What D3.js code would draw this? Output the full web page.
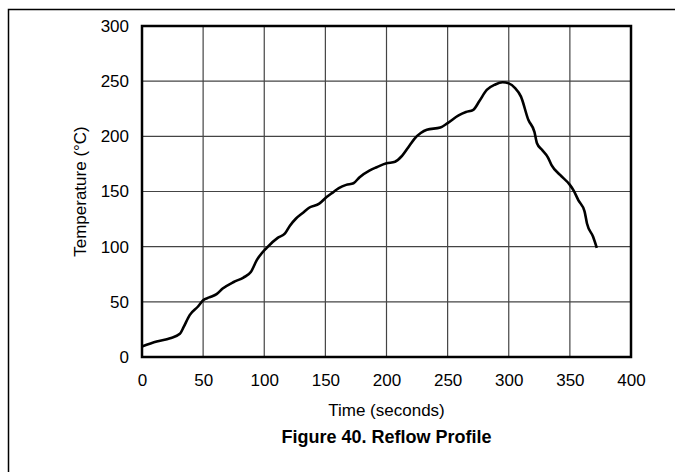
<!DOCTYPE html>
<html>
<head>
<meta charset="utf-8">
<script src="https://cdn.jsdelivr.net/npm/d3@7"></script>
<style>
  body { margin: 0; background: #fff; }
  svg { display: block; font-family: "Liberation Sans", Arial, sans-serif; }
</style>
</head>
<body>
<svg id="chart" width="675" height="472"></svg>
<script>
const timeSeconds = [0,12,23,31,34,39,46,50,55,61,66,75,83,89,94,102,111,117,121,126,132,137,145,151,156,161,167,173,178,186,192,200,207,212,219,223,228,233,244,250,259,265,271,276,282,289,295,300,305,310,316,321,323,327,332,335,342,350,353,357,362,364,369,372];
const temperatureC = [9.5,14,17,21,27,38,46,51.5,54,57,62,68,72,77,88,99,108,112,119,125.5,131,135.5,139,145,149,153,156,157.5,163,169,172,175.5,177,181.5,192,198,203,206,208,212,219,222,224,232,242,247,249,248,244,236,215,204,194,188,181,174,165,156,151,142,132,121,109,99];
const xTicks = [0,50,100,150,200,250,300,350,400];
const yTicks = [0,50,100,150,200,250,300];
const xLabel = "Time (seconds)";
const yLabel = "Temperature (°C)";
const title = "Figure 40. Reflow Profile";

const svg = d3.select("#chart");
const L = 142, R = 631, T = 26, B = 357;
const x = d3.scaleLinear().domain([0,400]).range([L,R]);
const y = d3.scaleLinear().domain([0,300]).range([B,T]);

// figure frame
svg.append("path").attr("d", `M8.5,472 L8.5,9.5 L675,9.5`).attr("fill","none").attr("stroke","#000").attr("stroke-width",1.5);

// grid
svg.append("g").selectAll("line").data(xTicks.slice(1,-1)).join("line")
  .attr("x1", d=>x(d)).attr("x2", d=>x(d)).attr("y1", T).attr("y2", B)
  .attr("stroke","#444").attr("stroke-width",1.2);
svg.append("g").selectAll("line").data(yTicks.slice(1,-1)).join("line")
  .attr("y1", d=>y(d)).attr("y2", d=>y(d)).attr("x1", L).attr("x2", R)
  .attr("stroke","#444").attr("stroke-width",1.2);

// axes (labels only)
const xAxis = svg.append("g").attr("transform",`translate(0,${B})`)
  .call(d3.axisBottom(x).tickValues(xTicks).tickSize(0).tickPadding(17).tickFormat(d3.format("d")));
const yAxis = svg.append("g").attr("transform",`translate(${L},0)`)
  .call(d3.axisLeft(y).tickValues(yTicks).tickSize(0).tickPadding(13).tickFormat(d3.format("d")));
[xAxis,yAxis].forEach(a=>{
  a.select(".domain").remove();
  a.selectAll("text").attr("font-size",17).attr("fill","#000").attr("font-family","Liberation Sans, Arial, sans-serif");
});

// plot border
svg.append("rect").attr("x",L).attr("y",T).attr("width",R-L).attr("height",B-T)
  .attr("fill","none").attr("stroke","#000").attr("stroke-width",2.5);

// curve
const line = d3.line().x((d,i)=>x(timeSeconds[i])).y((d,i)=>y(temperatureC[i])).curve(d3.curveMonotoneX);
svg.append("path").datum(temperatureC).attr("d", line)
  .attr("fill","none").attr("stroke","#000").attr("stroke-width",2.6).attr("stroke-linejoin","round");

// labels
svg.append("text").attr("x", (L+R)/2).attr("y", 416).attr("text-anchor","middle")
  .attr("font-size",17).text(xLabel);
svg.append("text").attr("transform",`translate(86,${(T+B)/2}) rotate(-90)`).attr("text-anchor","middle")
  .attr("font-size",17).text(yLabel);
svg.append("text").attr("x", (L+R)/2).attr("y", 443).attr("text-anchor","middle")
  .attr("font-size",18).attr("font-weight","bold").text(title);
</script>
</body>
</html>
